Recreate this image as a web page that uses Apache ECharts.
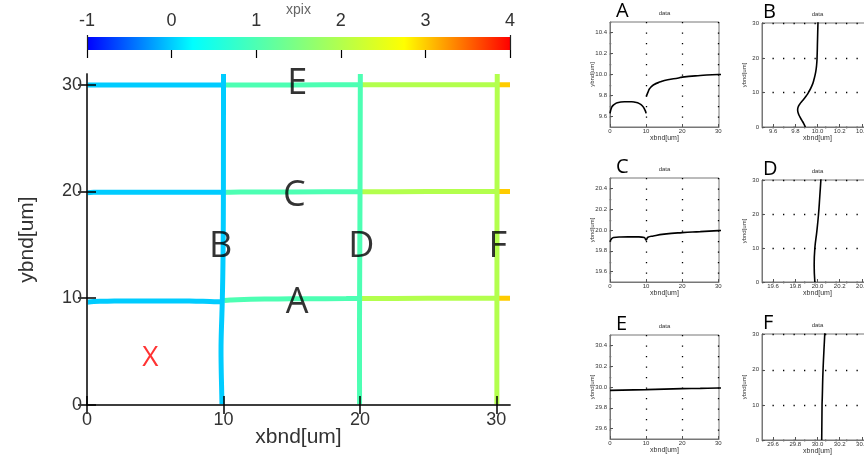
<!DOCTYPE html>
<html>
<head>
<meta charset="utf-8">
<script src="https://cdn.jsdelivr.net/npm/echarts@6/dist/echarts.min.js"></script>
<style>
  html, body { margin: 0; padding: 0; background: #fff; }
  #chart { width: 864px; height: 459px; }
</style>
</head>
<body>
<div id="chart"></div>
<script>
// colour bar (xpix)
const xpixTicks = [-1, 0, 1, 2, 3, 4]
const xpixEnds = [-1, 4]
const cmapStops = [[0, [0, 0, 255]], [0.25, [0, 255, 255]], [0.5, [128, 255, 128]], [0.75, [255, 255, 0]], [1, [255, 0, 0]]]

// horizontal boundaries get the xpix of the stretch they cross
const xpixPieces = [
  { lt: 10, xpix: 0 },
  { gte: 10, lt: 20, xpix: 1 },
  { gte: 20, lt: 30, xpix: 2 },
  { gte: 30, xpix: 3 },
]
// vertical boundaries
const xpixB = 0
const xpixD = 1
const xpixF = 2

// boundary shapes [xbnd, ybnd]
const lineA1 = [[0, 9.63], [0.5, 9.69], [1, 9.71], [2, 9.73], [4, 9.74], [6, 9.74], [7, 9.735], [8, 9.725], [9, 9.7], [9.7, 9.66], [10, 9.63]]
const lineA2 = [[10.05, 9.79], [10.5, 9.83], [11, 9.866], [12, 9.9], [14, 9.93], [16, 9.95], [19, 9.966], [20, 9.975], [25, 9.99], [30, 10.0], [31, 10.0]]
const lineB = [[9.891, 0], [9.876, 1], [9.858, 2], [9.84, 3], [9.827, 4], [9.821, 5], [9.828, 6], [9.848, 7], [9.874, 8], [9.898, 9], [9.918, 10], [9.95, 12], [9.97, 14], [9.984, 16], [9.992, 18], [9.996, 20], [10.0, 25], [10.004, 30], [10.005, 31]]
const lineC = [[0, 19.887], [0.5, 19.918], [1, 19.928], [3, 19.933], [5, 19.934], [8, 19.934], [9.5, 19.928], [10, 19.905], [10.5, 19.93], [12, 19.943], [15, 19.96], [20, 19.975], [25, 19.984], [30, 19.994], [31, 19.995]]
const lineD = [[19.976, 0], [19.97, 5], [19.976, 10], [19.994, 15], [20.009, 20], [20.02, 25], [20.03, 30], [20.032, 31]]
const lineE = [[0, 29.968], [10, 29.975], [15, 29.98], [20, 29.984], [25, 29.987], [30, 29.99], [31, 29.99]]
const lineF = [[30.038, 0], [30.041, 10], [30.043, 12], [30.05, 20], [30.065, 30], [30.066, 31]]

// main plot ticks and annotations
const mainTicks = [0, 10, 20, 30]
const letters = [['E', 15.4, 30.1], ['C', 15.2, 19.6], ['B', 9.8, 14.8], ['D', 20.1, 14.8], ['F', 30.1, 14.8], ['A', 15.4, 9.6]]
const markX = [4.65, 4.4]

// zoomed panels
const ticksA = [9.6, 9.8, 10.0, 10.2, 10.4]
const ticksB = [9.6, 9.8, 10.0, 10.2, 10.4]
const ticksC = [19.6, 19.8, 20.0, 20.2, 20.4]
const ticksD = [19.6, 19.8, 20.0, 20.2, 20.4]
const ticksE = [29.6, 29.8, 30.0, 30.2, 30.4]
const ticksF = [29.6, 29.8, 30.0, 30.2, 30.4]

function cmap(v) {
  const t = (v - xpixTicks[0]) / (xpixTicks[xpixTicks.length - 1] - xpixTicks[0])
  for (let i = 1; i < cmapStops.length; i++) {
    const [o0, c0] = cmapStops[i - 1]
    const [o1, c1] = cmapStops[i]
    if (t <= o1) {
      const f = (t - o0) / (o1 - o0)
      const c = c0.map((a, k) => Math.round(a + (c1[k] - a) * f))
      return `rgb(${c.join(',')})`
    }
  }
  return `rgb(${cmapStops[cmapStops.length - 1][1].join(',')})`
}

const chart = echarts.init(document.getElementById('chart'))

const font = 'Liberation Sans'
const grid = [
  { left: 87, top: 37, width: 423, height: 13, outerBoundsMode: 'none' },
  { left: 87, top: 74, width: 423, height: 331, outerBoundsMode: 'none' },
]
const xAxis = [
  {
    gridIndex: 0, type: 'value', position: 'top', min: -1, max: 4, z: 10,
    name: 'xpix', nameLocation: 'middle', nameGap: 20, nameMoveOverlap: false,
    nameTextStyle: { fontSize: 14, color: '#666', fontFamily: font },
    axisLine: { show: false },
    axisTick: { inside: true, length: 8, customValues: xpixTicks, lineStyle: { color: '#000', width: 1.2 } },
    axisLabel: { customValues: xpixTicks, fontSize: 18, color: '#333', margin: 7, fontFamily: font },
    splitLine: { show: false },
  },
  {
    gridIndex: 0, type: 'value', position: 'bottom', min: -1, max: 4, z: 10,
    axisLine: { show: false },
    axisTick: { inside: true, length: 15, customValues: xpixEnds, lineStyle: { color: '#222', width: 1.2 } },
    axisLabel: { show: false },
    splitLine: { show: false },
  },
  {
    gridIndex: 1, type: 'value', min: 0, max: 31, z: 10,
    name: 'xbnd[um]', nameLocation: 'middle', nameGap: 22, nameMoveOverlap: false,
    nameTextStyle: { fontSize: 21, color: '#333', fontFamily: font },
    axisLine: { lineStyle: { color: '#333', width: 1.5 } },
    axisTick: { inside: true, length: 9, customValues: mainTicks, lineStyle: { color: '#000', width: 1.5 } },
    axisLabel: { customValues: mainTicks, fontSize: 18, color: '#333', margin: 6, fontFamily: font },
    splitLine: { show: false },
  },
  {
    gridIndex: 1, type: 'value', position: 'top', min: 0, max: 31, z: 10,
    axisLine: { lineStyle: { color: '#333', width: 1.5 } },
    axisTick: { inside: true, length: 9, customValues: mainTicks, lineStyle: { color: '#000', width: 1.5 } },
    axisLabel: { show: false },
    splitLine: { show: false },
  },
]
const yAxis = [
  { gridIndex: 0, type: 'value', min: 0, max: 1, show: false },
  {
    gridIndex: 1, type: 'value', min: 0, max: 31, z: 10,
    name: 'ybnd[um]', nameLocation: 'middle', nameGap: 49, nameMoveOverlap: false,
    nameTextStyle: { fontSize: 21, color: '#333', fontFamily: font },
    axisLine: { lineStyle: { color: '#333', width: 1.5 } },
    axisTick: { inside: true, length: 9, customValues: mainTicks, lineStyle: { color: '#000', width: 1.5 } },
    axisLabel: { customValues: mainTicks, fontSize: 18, color: '#333', margin: 5, fontFamily: font },
    splitLine: { show: false },
  },
  {
    gridIndex: 1, type: 'value', position: 'right', min: 0, max: 31, z: 10,
    axisLine: { lineStyle: { color: '#333', width: 1.5 } },
    axisTick: { inside: true, length: 9, customValues: mainTicks, lineStyle: { color: '#000', width: 1.5 } },
    axisLabel: { show: false },
    splitLine: { show: false },
  },
]

const series = [
  {
    type: 'custom', xAxisIndex: 0, yAxisIndex: 0, data: [xpixEnds],
    encode: { x: [0, 1] }, silent: true,
    renderItem(params, api) {
      const p0 = api.coord([api.value(0), 1])
      const p1 = api.coord([api.value(1), 0])
      return {
        type: 'rect',
        shape: { x: p0[0], y: p0[1], width: p1[0] - p0[0], height: p1[1] - p0[1] },
        style: {
          fill: new echarts.graphic.LinearGradient(0, 0, 1, 0,
            cmapStops.map(([o, c]) => ({ offset: o, color: `rgb(${c.join(',')})` }))),
        },
      }
    },
  },
]

const mainLine = (data, color) => ({
  type: 'line', xAxisIndex: 2, yAxisIndex: 1, data, showSymbol: false, smooth: 0.3,
  lineStyle: { width: 5, color }, itemStyle: { color }, silent: true,
})
const horizontal = [lineA1, lineA2, lineC, lineE]
horizontal.forEach((d) => series.push(mainLine(d)))
const horizIdx = horizontal.map((_, i) => i + 1)
series.push(mainLine(lineB, cmap(xpixB)))
series.push(mainLine(lineD, cmap(xpixD)))
series.push(mainLine(lineF, cmap(xpixF)))
series.push({
  type: 'scatter', xAxisIndex: 2, yAxisIndex: 1, symbolSize: 0, silent: true, z: 20,
  data: letters.map(([t, x, y]) => ({ name: t, value: [x, y] })),
  label: { show: true, position: 'inside', formatter: '{b}', fontSize: 36, color: '#000', fontFamily: 'Open Sans' },
})
series.push({
  type: 'scatter', xAxisIndex: 2, yAxisIndex: 1, symbolSize: 0, silent: true, z: 20,
  data: [{ name: 'X', value: markX }],
  label: { show: true, position: 'inside', formatter: '{b}', fontSize: 28, color: '#ff0000', fontFamily: 'Open Sans' },
})

// zoomed panels
const title = []
const panels = [
  { n: 'A', box: { left: 610, top: 22, width: 109, height: 105 }, x: [0, 30.2], xt: mainTicks, y: [9.5, 10.5], yt: ticksA, data: [lineA1, lineA2], vert: false },
  { n: 'B', box: { left: 762, top: 23, width: 111, height: 104 }, x: [9.5, 10.5], xt: ticksB, y: [0, 30.2], yt: mainTicks, data: [lineB], vert: true },
  { n: 'C', box: { left: 610, top: 178, width: 109, height: 104 }, x: [0, 30.2], xt: mainTicks, y: [19.5, 20.5], yt: ticksC, data: [lineC], vert: false },
  { n: 'D', box: { left: 762, top: 180, width: 111, height: 102 }, x: [19.5, 20.5], xt: ticksD, y: [0, 30.2], yt: mainTicks, data: [lineD], vert: true },
  { n: 'E', box: { left: 610, top: 335, width: 109, height: 104 }, x: [0, 30.2], xt: mainTicks, y: [29.5, 30.5], yt: ticksE, data: [lineE], vert: false },
  { n: 'F', box: { left: 762, top: 334, width: 111, height: 106 }, x: [29.5, 30.5], xt: ticksF, y: [0, 30.2], yt: mainTicks, data: [lineF], vert: true },
]

panels.forEach((p) => {
  const gi = grid.length
  grid.push({ ...p.box, show: true, borderColor: '#777', borderWidth: 1, outerBoundsMode: 'none' })
  const dotted = { show: true, lineStyle: { color: '#000', width: 1.3, type: [1.3, 9.2] } }
  const small = { fontSize: 6, color: '#333', fontFamily: font }
  xAxis.push({
    gridIndex: gi, type: 'value', min: p.x[0], max: p.x[1],
    name: 'xbnd[um]', nameLocation: 'middle', nameGap: 8, nameMoveOverlap: false,
    nameTextStyle: { fontSize: 7, color: '#333', fontFamily: font },
    axisLine: { lineStyle: { color: '#777', width: 1 } },
    axisTick: { inside: true, length: 3, customValues: p.xt, lineStyle: { color: '#555' } },
    axisLabel: { ...small, margin: 1, customValues: p.xt, formatter: (v) => p.vert ? v.toFixed(1) : String(v) },
    splitLine: p.vert ? { show: false } : dotted,
  })
  yAxis.push({
    gridIndex: gi, type: 'value', min: p.y[0], max: p.y[1],
    name: 'ybnd[um]', nameLocation: 'middle', nameGap: 15, nameMoveOverlap: false,
    nameTextStyle: { fontSize: 6, color: '#333', fontFamily: font },
    axisLine: { lineStyle: { color: '#777', width: 1 } },
    axisTick: { inside: true, length: 3, customValues: p.yt, lineStyle: { color: '#555' } },
    axisLabel: { ...small, margin: 3, customValues: p.yt, formatter: (v) => p.vert ? String(v) : v.toFixed(1) },
    splitLine: p.vert ? dotted : { show: false },
  })
  p.data.forEach((d) => series.push({
    type: 'line', xAxisIndex: xAxis.length - 1, yAxisIndex: yAxis.length - 1, data: d,
    showSymbol: false, smooth: 0.5, silent: true, lineStyle: { color: '#000', width: 1.6 },
  }))
  title.push({
    text: p.n, left: p.box.left + (p.vert ? 1 : 6), top: p.box.top - 21, padding: 0,
    textStyle: { fontSize: 20, fontWeight: 'normal', color: '#000', fontFamily: 'Open Sans' },
  })
  title.push({
    text: 'data', left: p.box.left + p.box.width / 2, textAlign: 'center', top: p.box.top - 12, padding: 0,
    textStyle: { fontSize: 6, fontWeight: 'normal', color: '#333', fontFamily: font },
  })
})

chart.setOption({
  animation: false,
  title,
  grid,
  xAxis,
  yAxis,
  visualMap: {
    type: 'piecewise', show: false, dimension: 0, seriesIndex: horizIdx,
    pieces: xpixPieces.map(({ xpix, ...range }) => ({ ...range, color: cmap(xpix) })),
  },
  series,
})
</script>
</body>
</html>
